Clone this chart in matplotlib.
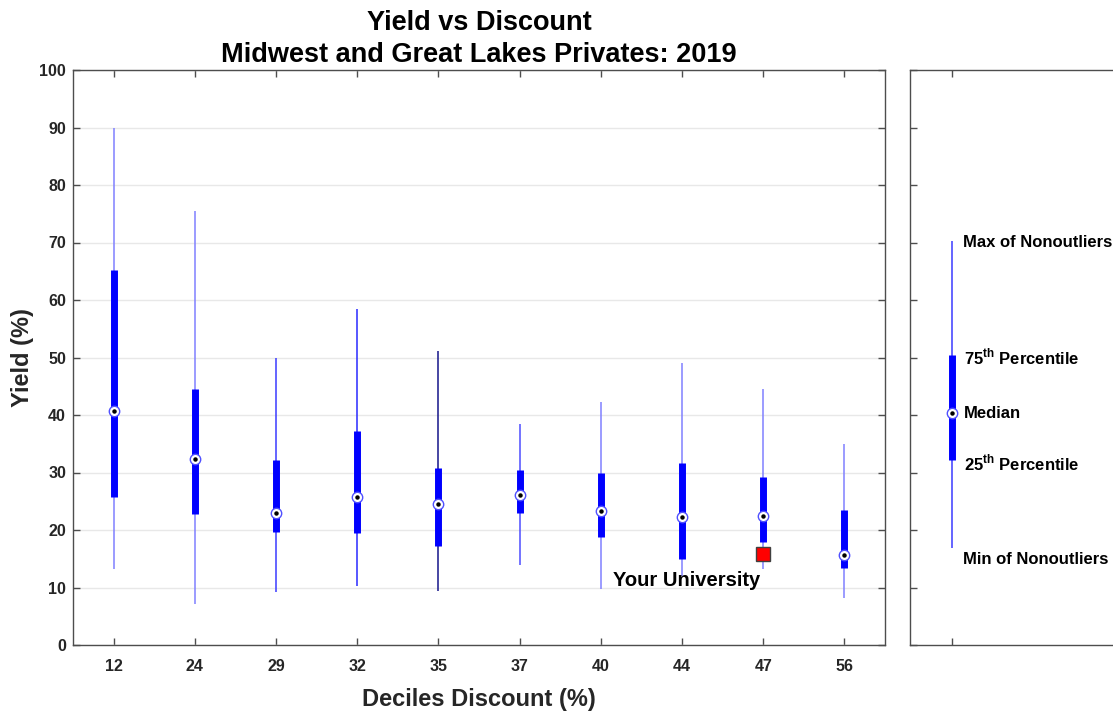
import matplotlib
matplotlib.use("Agg")
import matplotlib.pyplot as plt

plt.rcParams['font.family'] = ['Liberation Sans', 'DejaVu Sans']
plt.rcParams['mathtext.fontset'] = 'custom'
plt.rcParams['mathtext.rm'] = 'Liberation Sans:bold'
plt.rcParams['mathtext.bf'] = 'Liberation Sans:bold'

# ---- data ----
categories = ['12', '24', '29', '32', '35', '37', '40', '44', '47', '56']
whisker_max = [90.0, 75.4, 50.0, 58.4, 51.2, 38.4, 42.2, 49.1, 44.6, 34.9]
q3 = [65.3, 44.6, 32.1, 37.2, 30.8, 30.4, 29.9, 31.6, 29.3, 23.5]
median = [40.7, 32.3, 23.0, 25.7, 24.5, 26.1, 23.3, 22.2, 22.4, 15.7]
q1 = [25.8, 22.8, 19.7, 19.4, 17.2, 23.0, 18.8, 14.9, 18.0, 13.4]
whisker_min = [13.2, 7.2, 9.2, 10.3, 9.4, 14.0, 9.8, 12.0, 13.3, 8.1]

your_univ_category = '47'
your_univ_value = 15.8
your_univ_label = 'Your University'

legend_max, legend_q3, legend_med, legend_q1, legend_min = 70.3, 50.4, 40.3, 32.2, 16.9

# ---- styles ----
whisker_colors = ['#8080ff', '#8080ff', '#3a3aff', '#2a2aff', '#15158a',
                  '#4d4dff', '#8080ff', '#8080ff', '#8080ff', '#8080ff']
box_color = '#0000ff'
grey = '#262626'

W, H = 1113, 713
fig = plt.figure(figsize=(W / 100, H / 100), dpi=100)

def px_axes(l, t, r, b):
    return fig.add_axes([l / W, 1 - b / H, (r - l) / W, (b - t) / H])

ax = px_axes(73, 70, 885, 645)
pos = list(range(1, len(categories) + 1))

ax.vlines(pos, whisker_min, whisker_max, colors=whisker_colors, lw=1.1, zorder=2)
ax.vlines(pos, q1, q3, colors=box_color, lw=5.0, zorder=3)
ax.plot(pos, median, 'o', ms=7.5, mfc='white', mec='#5050ff', mew=1.0, zorder=4)
ax.plot(pos, median, 'o', ms=2.2, mfc='black', mec='black', zorder=5)

ux = pos[categories.index(your_univ_category)]
ax.plot([ux], [your_univ_value], 's', ms=9.5, mfc='#ff0000', mec='#404040', mew=1.0, zorder=6)
ax.text(ux - 0.04, your_univ_value - 4.6, your_univ_label, ha='right', va='center',
        fontsize=14.5, fontweight='bold', color='black', zorder=7)

ax.set_xlim(0.5, 10.5)
ax.set_ylim(0, 100)
ax.set_xticks(pos)
ax.set_xticklabels(categories)
ax.set_yticks(range(0, 101, 10))
ax.yaxis.grid(True, color='#e8e8e8', lw=1.0)
ax.set_axisbelow(True)
ax.tick_params(direction='in', length=5, width=1, colors='#4d4d4d', top=True, right=True,
               labelsize=11.5, labelcolor=grey)
ax.tick_params(axis='x', pad=10)
ax.tick_params(axis='y', pad=5)
for lab in ax.get_xticklabels() + ax.get_yticklabels():
    lab.set_fontweight('bold')
for s in ax.spines.values():
    s.set_color('#4d4d4d')
    s.set_linewidth(1.0)

ax.set_xlabel('Deciles Discount (%)', fontsize=17, fontweight='bold', color=grey, labelpad=10)
ax.set_ylabel('Yield (%)', fontsize=17, fontweight='bold', color=grey, labelpad=4)
ax.set_title('Yield vs Discount\nMidwest and Great Lakes Privates: 2019',
             fontsize=19.5, fontweight='bold', color='black', pad=6, linespacing=1.3)

# ---- legend axes ----
lax = px_axes(910, 70, 1150, 645)
lax.vlines([1], [legend_min], [legend_max], colors='#3a3aff', lw=1.1, zorder=2)
lax.vlines([1], [legend_q1], [legend_q3], colors=box_color, lw=5.0, zorder=3)
lax.plot([1], [legend_med], 'o', ms=7.5, mfc='white', mec='#5050ff', mew=1.0, zorder=4)
lax.plot([1], [legend_med], 'o', ms=2.2, mfc='black', mec='black', zorder=5)
lax.set_xlim(0, 5.714)
lax.set_ylim(0, 100)
lax.set_xticks([1])
lax.set_yticks(range(0, 101, 10))
lax.tick_params(direction='in', length=5, width=1, colors='#4d4d4d', top=True,
                labelleft=False, labelbottom=False)
for s in lax.spines.values():
    s.set_color('#4d4d4d')
    s.set_linewidth(1.0)

tx = 1.26
lfs = 12
lax.text(tx, 70.0, 'Max of Nonoutliers', ha='left', va='center', fontsize=lfs, fontweight='bold')
lax.text(tx + 0.03, 50.0, r'75$^{\mathrm{th}}$ Percentile', ha='left', va='center', fontsize=lfs, fontweight='bold')
lax.text(tx + 0.03, 40.3, 'Median', ha='left', va='center', fontsize=lfs, fontweight='bold')
lax.text(tx + 0.03, 31.6, r'25$^{\mathrm{th}}$ Percentile', ha='left', va='center', fontsize=lfs, fontweight='bold')
lax.text(tx, 14.8, 'Min of Nonoutliers', ha='left', va='center', fontsize=lfs, fontweight='bold')

fig.savefig('out.png', dpi=100)
